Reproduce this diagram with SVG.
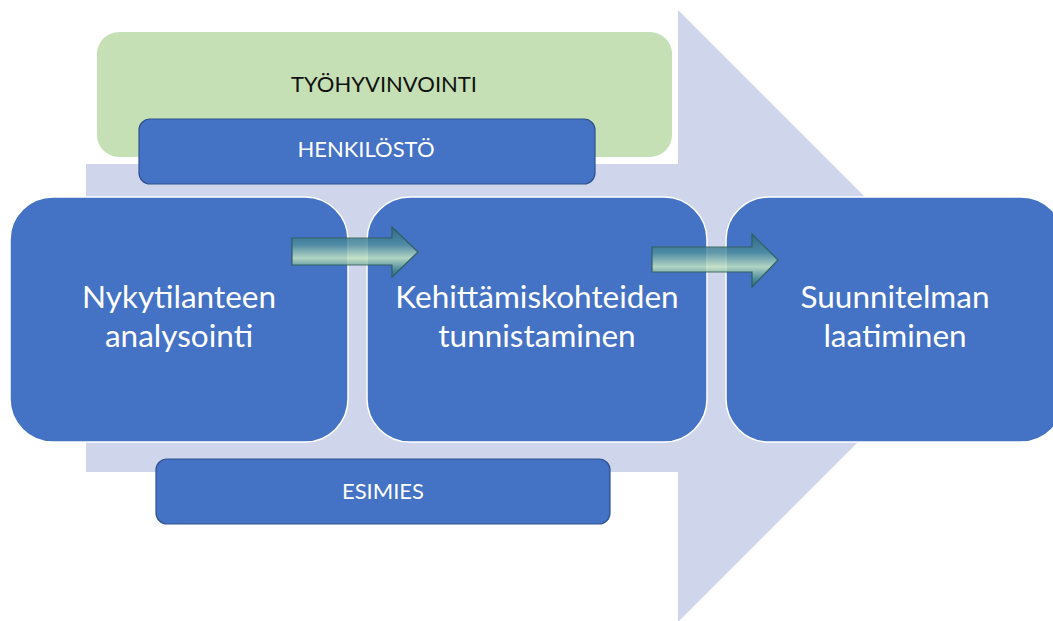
<svg xmlns="http://www.w3.org/2000/svg" width="1053" height="621" viewBox="0 0 1053 621">
<defs>
<style>
.big{fill:#4472C4;stroke:#FFFFFF;stroke-width:1.5}
.bar{fill:#4472C4;stroke:#2F528F;stroke-width:1.2}
.t{font-family:Lato,"Open Sans","Liberation Sans",sans-serif;text-anchor:middle}
.main{font-size:31.5px;fill:#FFFFFF}
.small{font-size:22px;fill:#FFFFFF}
.dark{fill:#111111}
.arr{fill:url(#ag);stroke:#2E5E4E;stroke-width:1.2;opacity:0.85}
</style>
<linearGradient id="ag" x1="0" y1="0" x2="0" y2="1">
<stop offset="0" stop-color="#2C6883"/>
<stop offset="0.35" stop-color="#4F8FA0"/>
<stop offset="0.62" stop-color="#C5E5C3"/>
<stop offset="0.85" stop-color="#4F9096"/>
<stop offset="1" stop-color="#2C6874"/>
</linearGradient>
</defs>
<rect width="1053" height="621" fill="#FFFFFF"/>
<g id="backArrow">
<polygon points="86,164 678,164 678,10 984,316 678,622 678,472 86,472" fill="#CFD5EA"/>
</g>
<g id="tyohyvinvointi">
<rect x="97" y="32" width="575" height="125" rx="22" fill="#C5E0B4"/>
<text class="t dark" x="384" y="92" font-size="22">TYÖHYVINVOINTI</text>
</g>
<g id="henkilosto">
<rect class="bar" x="139" y="119" width="456" height="65" rx="11"/>
<text class="t small" x="366" y="157">HENKILÖSTÖ</text>
</g>
<g id="esimies">
<rect class="bar" x="156" y="459" width="454" height="65" rx="11"/>
<text class="t small" x="383" y="499" font-size="23">ESIMIES</text>
</g>
<g id="nykytilanteen">
<rect class="big" x="10" y="197" width="338" height="245" rx="43"/>
<text class="t main" x="179" y="308">Nykytilanteen</text>
<text class="t main" x="179" y="347">analysointi</text>
</g>
<g id="kehittamiskohteiden">
<rect class="big" x="367" y="197" width="340" height="245" rx="43"/>
<text class="t main" x="537" y="308">Kehittämiskohteiden</text>
<text class="t main" x="537" y="347">tunnistaminen</text>
</g>
<g id="suunnitelman">
<rect class="big" x="726" y="197" width="338" height="245" rx="43"/>
<text class="t main" x="895" y="308">Suunnitelman</text>
<text class="t main" x="895" y="347">laatiminen</text>
</g>
<g id="connectors">
<polygon class="arr" points="292,238 392,238 392,227 418,252 392,277 392,265 292,265"/>
<polygon class="arr" points="652,247 752,247 752,234 778,260 752,287 752,272 652,272"/>
</g>
</svg>
